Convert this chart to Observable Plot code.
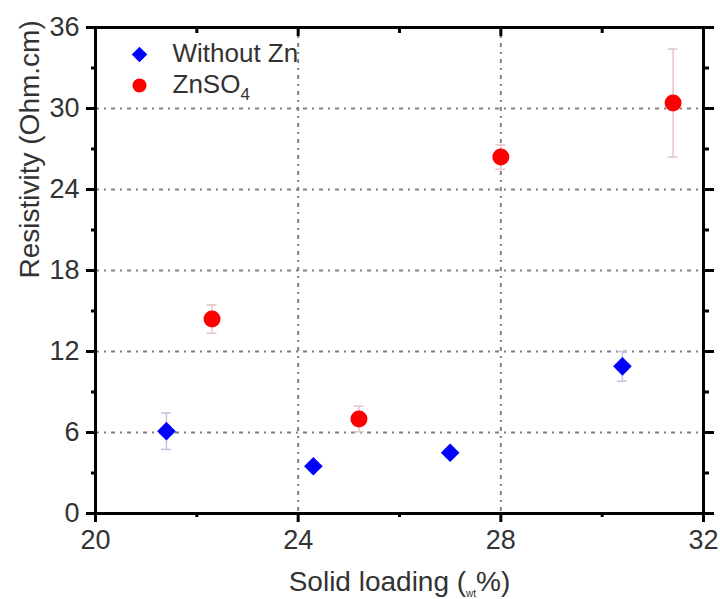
<!DOCTYPE html>
<html>
<head>
<meta charset="utf-8">
<script src="https://cdn.jsdelivr.net/npm/d3@7"></script>
<script src="https://cdn.jsdelivr.net/npm/@observablehq/plot@0.6"></script>
<style>
  body { margin: 0; background: #fff; }
  #chart { width: 720px; height: 599px; }
</style>
</head>
<body>
<div id="chart"></div>
<script>
// Resistivity versus solid loading, with and without ZnSO4
const seriesNames = ["Without Zn", "ZnSO4"];
const withoutZnLoading = [21.4, 24.3, 27.0, 30.4];
const withoutZnResistivity = [6.1, 3.5, 4.5, 10.9];
const withoutZnError = [1.35, 0.3, 0.3, 1.1];
const znso4Loading = [22.3, 25.2, 28.0, 31.4];
const znso4Resistivity = [14.4, 7.0, 26.4, 30.4];
const znso4Error = [1.05, 0.95, 0.9, 4.0];
const xTicks = [20, 24, 28, 32];
const xMinorTicks = [22, 26, 30];
const yTicks = [0, 6, 12, 18, 24, 30, 36];
const yMinorTicks = [3, 9, 15, 21, 27, 33];
const xTitle = "Solid loading (wt%)";
const yTitle = "Resistivity (Ohm.cm)";

const rowsOf = (xs, ys, es) => xs.map((x, i) => ({loading: x, value: ys[i], err: es[i]}));
const withoutZn = rowsOf(withoutZnLoading, withoutZnResistivity, withoutZnError);
const znso4 = rowsOf(znso4Loading, znso4Resistivity, znso4Error);

const blue = "#0000ff", red = "#ff0000";
const blueErr = "#c4c4e4", redErr = "#e4c4c4";
const textColor = "#333";
const gridStyle = {stroke: "#808080", strokeOpacity: 1, strokeWidth: 2, strokeDasharray: "4,5,2,5"};
const blank = () => "";
const tickStyle = {strokeWidth: 3, stroke: "#000", label: null};

function errorBars(rows, color) {
  return [
    Plot.ruleX(rows, {x: "loading", y1: d => d.value - d.err, y2: d => d.value + d.err, stroke: color, strokeWidth: 1.5}),
    Plot.ruleY(rows, {y: d => d.value - d.err, x1: "loading", x2: "loading", insetLeft: -5, insetRight: -5, stroke: color, strokeWidth: 1.5}),
    Plot.ruleY(rows, {y: d => d.value + d.err, x1: "loading", x2: "loading", insetLeft: -5, insetRight: -5, stroke: color, strokeWidth: 1.5})
  ];
}

const chart = Plot.plot({
  width: 720,
  height: 599,
  marginLeft: 95,
  marginRight: 17,
  marginTop: 27,
  marginBottom: 86,
  x: {domain: [20, 32]},
  y: {domain: [0, 36]},
  style: {fontFamily: "'Liberation Sans', Arial, sans-serif", fontSize: "27px", color: textColor, background: "#fff"},
  marks: [
    Plot.gridX(xTicks.slice(1, -1), gridStyle),
    Plot.gridY(yTicks.slice(1, -1), gridStyle),

    // major and minor ticks on all four sides
    Plot.axisX(xTicks, {anchor: "bottom", tickSize: 9, tickPadding: 7, fontSize: 27, ...tickStyle}),
    Plot.axisX(xMinorTicks, {anchor: "bottom", tickSize: 4, tickFormat: blank, ...tickStyle}),
    Plot.axisX(xTicks, {anchor: "top", tickSize: 8, dy: 8, tickFormat: blank, ...tickStyle}),
    Plot.axisX(xMinorTicks, {anchor: "top", tickSize: 5, dy: 5, tickFormat: blank, ...tickStyle}),
    Plot.axisY(yTicks, {anchor: "left", tickSize: 9, tickPadding: 7, fontSize: 27, ...tickStyle}),
    Plot.axisY(yMinorTicks, {anchor: "left", tickSize: 4, tickFormat: blank, ...tickStyle}),
    Plot.axisY(yTicks, {anchor: "right", tickSize: 10, tickFormat: blank, ...tickStyle}),
    Plot.axisY(yMinorTicks, {anchor: "right", tickSize: 5, tickFormat: blank, ...tickStyle}),
    Plot.frame({stroke: "#000", strokeWidth: 3}),

    ...errorBars(withoutZn, blueErr),
    ...errorBars(znso4, redErr),
    Plot.dot(withoutZn, {x: "loading", y: "value", symbol: "diamond2", r: 8.4, fill: blue}),
    Plot.dot(znso4, {x: "loading", y: "value", symbol: "circle", r: 8.5, fill: red}),

    // legend
    Plot.dot([seriesNames[0]], {frameAnchor: "top-left", dx: 44, dy: 27, symbol: "diamond2", r: 7, fill: blue}),
    Plot.dot([seriesNames[1]], {frameAnchor: "top-left", dx: 44, dy: 58, symbol: "circle", r: 7, fill: red}),
    Plot.text([seriesNames[0]], {frameAnchor: "top-left", dx: 77, dy: 26, text: d => d, textAnchor: "start", lineAnchor: "middle", fontSize: 26, fill: textColor}),
    Plot.text([seriesNames[1]], {frameAnchor: "top-left", dx: 77, dy: 57, text: d => d, textAnchor: "start", lineAnchor: "middle", fontSize: 26, fill: textColor}),

    // axis titles
    Plot.text([yTitle], {frameAnchor: "left", dx: -65, dy: 8, rotate: -90, text: d => d, fontSize: 28, fill: textColor}),
    Plot.text([xTitle], {frameAnchor: "bottom", dy: 69, text: d => d, lineAnchor: "middle", fontSize: 28, fill: textColor})
  ]
});

// subscripts in the legend label and the x title
d3.select(chart).selectAll("text").each(function () {
  const t = d3.select(this);
  const s = this.textContent;
  if (s === seriesNames[1]) {
    t.text("ZnSO");
    t.append("tspan").attr("font-size", 17).attr("dy", 7).text("4");
  } else if (s === xTitle) {
    t.text("Solid loading (");
    t.append("tspan").attr("font-size", 10).attr("dy", 6).text("wt");
    t.append("tspan").attr("dy", -6).text("%)");
  }
});

document.getElementById("chart").appendChild(chart);
</script>
</body>
</html>
